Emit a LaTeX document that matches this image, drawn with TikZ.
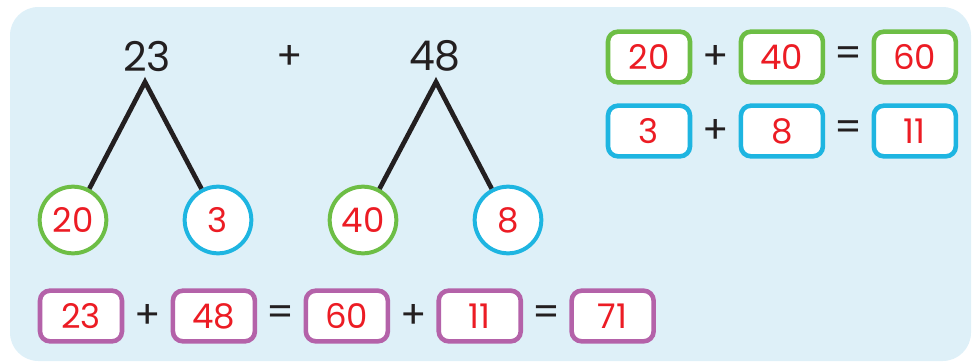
\documentclass[tikz,border=0pt]{standalone}
\usepackage{fontspec}
\setmainfont{Poppins}
\usepackage{xcolor}
\usepackage{tikz}
\usetikzlibrary{positioning, calc}

\definecolor{panelblue}{HTML}{DEF0F8}
\definecolor{tensgreen}{HTML}{6DBE45}
\definecolor{onesblue}{HTML}{1EB5E1}
\definecolor{sumpurple}{HTML}{B462A9}
\definecolor{numred}{HTML}{EC1C24}
\definecolor{inkblack}{HTML}{231F20}

\begin{document}
\begin{tikzpicture}[
  x=0.03cm, y=-0.03cm,
  every node/.style={font=\fontsize{29}{32}\selectfont},
  part/.style={circle, draw, line width=3.4pt, fill=white, text=numred, minimum size=2.0cm, inner sep=0pt},
  numbox/.style={rectangle, rounded corners=0.3cm, draw, line width=3.9pt, fill=white, text=numred, minimum width=2.46cm, minimum height=1.52cm, inner sep=0pt},
  sign/.style={text=inkblack, inner sep=0pt, font=\fontsize{33}{36}\selectfont},
  whole/.style={text=inkblack, font=\fontsize{35}{38}\selectfont},
  leg/.style={inkblack, line width=4pt, line join=miter}
]
\useasboundingbox (0,0) rectangle (972,362);
\fill[panelblue, rounded corners=0.85cm] (10,7) rectangle (971,361);

% Partition trees
\node[whole] (n23) at (147,56) {23};
\node[sign] (plusTop) at (290,57) {+};
\node[whole] (n48) at (435,56) {48};
\coordinate (apexA) at (145,82);
\coordinate (apexB) at (436,82);
\node[part, draw=tensgreen] (c20) at (73,220) {20};
\node[part, draw=onesblue] (c3) at (218,220) {3};
\node[part, draw=tensgreen] (c40) at (363,220) {40};
\node[part, draw=onesblue] (c8) at (508,220) {8};
\draw[leg] (c20) -- (apexA) -- (c3);
\draw[leg] (c40) -- (apexB) -- (c8);

% Tens and ones sums
\node[numbox, draw=tensgreen] (t20) at (649,57) {20};
\node[numbox, draw=tensgreen, right=1.39cm of t20] (t40) {40};
\node[numbox, draw=tensgreen, right=1.39cm of t40] (t60) {60};
\node[sign] (tplus) at ($(t20)!0.5!(t40)$) {+};
\node[sign] (teq) at ($(t40)!0.5!(t60)$) {=};

\node[numbox, draw=onesblue] (o3) at (649,131) {3};
\node[numbox, draw=onesblue, right=1.39cm of o3] (o8) {8};
\node[numbox, draw=onesblue, right=1.39cm of o8] (o11) {11};
\node[sign] (oplus) at ($(o3)!0.5!(o8)$) {+};
\node[sign] (oeq) at ($(o8)!0.5!(o11)$) {=};

% Whole calculation
\node[numbox, draw=sumpurple] (s23) at (81,316) {23};
\node[numbox, draw=sumpurple, right=1.39cm of s23] (s48) {48};
\node[numbox, draw=sumpurple, right=1.39cm of s48] (s60) {60};
\node[numbox, draw=sumpurple, right=1.39cm of s60] (s11) {11};
\node[numbox, draw=sumpurple, right=1.39cm of s11] (s71) {71};
\node[sign] (splusA) at ($(s23)!0.5!(s48)$) {+};
\node[sign] (seqA) at ($(s48)!0.5!(s60)$) {=};
\node[sign] (splusB) at ($(s60)!0.5!(s11)$) {+};
\node[sign] (seqB) at ($(s11)!0.5!(s71)$) {=};
\end{tikzpicture}
\end{document}
